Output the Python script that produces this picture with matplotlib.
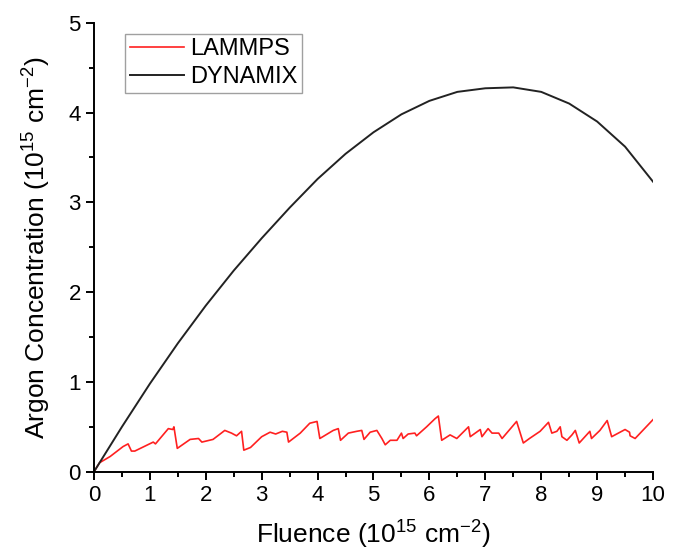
import matplotlib
matplotlib.use('Agg')
import matplotlib.pyplot as plt
from matplotlib.ticker import MultipleLocator

plt.rcParams['font.family'] = ['Liberation Sans', 'DejaVu Sans']
plt.rcParams['mathtext.fontset'] = 'custom'
plt.rcParams['mathtext.rm'] = 'Liberation Sans'

# DYNAMIX curve (fluence, concentration), units 1e15 cm^-2
dyn_x = [0, 0.5, 1, 1.5, 2, 2.5, 3, 3.5, 4, 4.5, 5, 5.5, 6, 6.5, 7, 7.5, 8, 8.5, 9, 9.5, 10]
dyn_y = [0, 0.5, 0.98, 1.43, 1.85, 2.24, 2.6, 2.94, 3.26, 3.54, 3.78, 3.98, 4.13, 4.23, 4.27,
         4.28, 4.23, 4.1, 3.9, 3.62, 3.23]

# LAMMPS sawtooth
lam_x = [0, 0.1, 0.29, 0.52, 0.61, 0.67, 0.73, 1.06, 1.1, 1.33, 1.41, 1.43, 1.49, 1.72, 1.87,
         1.93, 2.13, 2.34, 2.46, 2.55, 2.64, 2.68, 2.8, 3.0, 3.15, 3.25, 3.37, 3.45, 3.48,
         3.69, 3.86, 3.99, 4.04, 4.28, 4.37, 4.41, 4.55, 4.7, 4.79, 4.83, 4.94, 5.06, 5.15,
         5.21, 5.3, 5.42, 5.5, 5.53, 5.62, 5.74, 5.77, 5.95, 6.1, 6.16, 6.22, 6.37, 6.49,
         6.7, 6.73, 6.91, 6.94, 7.05, 7.12, 7.24, 7.3, 7.56, 7.68, 7.79, 7.98, 8.13, 8.19,
         8.28, 8.34, 8.37, 8.46, 8.55, 8.61, 8.68, 8.87, 8.9, 9.05, 9.18, 9.26, 9.38, 9.5,
         9.58, 9.59, 9.68, 10.0]
lam_y = [0, 0.1, 0.17, 0.28, 0.31, 0.23, 0.23, 0.33, 0.31, 0.48, 0.47, 0.5, 0.26, 0.36, 0.37,
         0.33, 0.36, 0.46, 0.43, 0.4, 0.45, 0.24, 0.27, 0.39, 0.44, 0.42, 0.45, 0.44, 0.33,
         0.43, 0.54, 0.56, 0.37, 0.46, 0.48, 0.35, 0.43, 0.45, 0.46, 0.36, 0.44, 0.46, 0.37,
         0.3, 0.35, 0.35, 0.43, 0.37, 0.42, 0.43, 0.4, 0.5, 0.59, 0.62, 0.35, 0.41, 0.37,
         0.5, 0.39, 0.47, 0.39, 0.48, 0.43, 0.43, 0.37, 0.56, 0.32, 0.37, 0.45, 0.55, 0.43,
         0.45, 0.5, 0.39, 0.35, 0.41, 0.46, 0.32, 0.45, 0.37, 0.46, 0.57, 0.39, 0.43, 0.47,
         0.44, 0.4, 0.37, 0.58]

fig = plt.figure(figsize=(6.82, 5.57), dpi=100)
ax = fig.add_axes([0.1378, 0.1531, 0.8197, 0.8061])

ax.plot(lam_x, lam_y, color='#ff2020', lw=1.2, label='LAMMPS')
ax.plot(dyn_x, dyn_y, color='#222222', lw=1.4, label='DYNAMIX')

ax.set_xlim(0, 10)
ax.set_ylim(0, 5)
ax.xaxis.set_major_locator(MultipleLocator(1))
ax.xaxis.set_minor_locator(MultipleLocator(0.5))
ax.yaxis.set_major_locator(MultipleLocator(1))
ax.yaxis.set_minor_locator(MultipleLocator(0.5))
ax.spines['top'].set_visible(False)
ax.spines['right'].set_visible(False)
ax.spines['left'].set_linewidth(1.4)
ax.spines['bottom'].set_linewidth(1.4)
ax.tick_params(which='major', direction='out', length=5.5, width=1.4, labelsize=16, pad=4)
ax.tick_params(which='minor', direction='out', length=3.5, width=1.4)

ax.set_xlabel('Fluence (10$^{15}$ cm$^{-2}$)', fontsize=19, labelpad=8)
ax.set_ylabel('Argon Concentration (10$^{15}$ cm$^{-2}$)', fontsize=19, labelpad=12)

leg = ax.legend(loc='upper left', bbox_to_anchor=(0.056, 0.976), fontsize=17, fancybox=False,
                edgecolor='#888888', handlelength=2.3, borderpad=0.2, labelspacing=0.25,
                handletextpad=0.25, borderaxespad=0)
leg.get_frame().set_linewidth(1.0)

fig.savefig('out.png', dpi=100)
